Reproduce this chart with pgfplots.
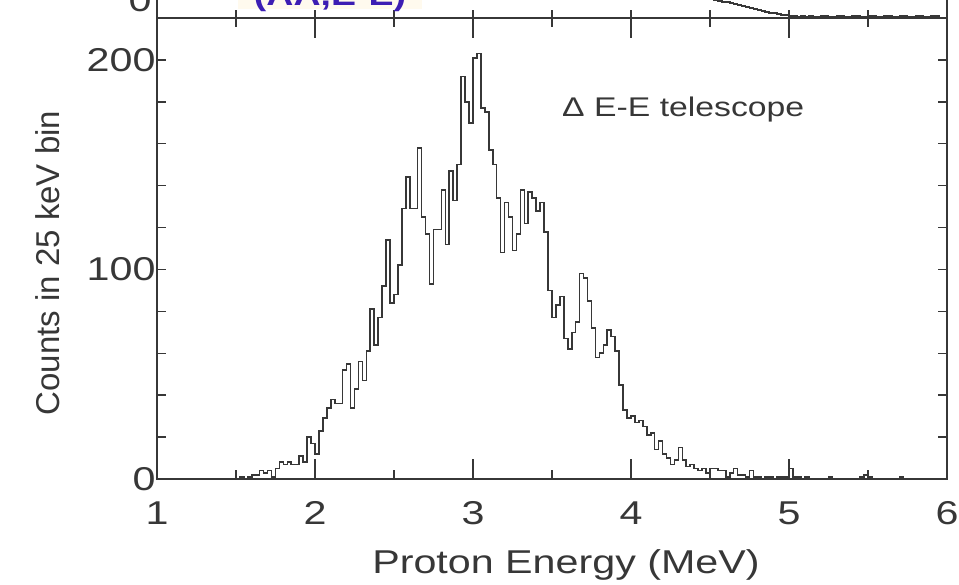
\documentclass[border=0pt]{standalone}
\usepackage{fontspec}
\setmainfont{Liberation Sans}[FakeStretch=1.25]
\newfontfamily\ylabfont{Liberation Sans}
\usepackage{pgfplots}
\pgfplotsset{compat=1.18}
\definecolor{titleblue}{RGB}{60,30,180}
\definecolor{cream}{RGB}{255,250,238}
\definecolor{ink}{RGB}{55,55,55}
\begin{document}
\begin{tikzpicture}
\useasboundingbox (-157pt,-105pt) rectangle (802pt,479pt);
% main (lower) panel
\begin{axis}[
  scale only axis, width=790pt, height=461pt,
  at={(0pt,0pt)}, anchor=south west,
  xmin=1, xmax=6, ymin=0, ymax=220,
  axis line style={ink, line width=1.6pt},
  xtick={1,2,3,4,5,6},
  minor xtick={1.5,2.5,3.5,4.5,5.5},
  ytick={0,100,200},
  minor ytick={0,20,...,200},
  major tick length=20pt, minor tick length=9pt,
  every major y tick/.append style={draw=none},
  tick style={ink, line width=1.4pt},
  tick label style={font=\fontsize{33}{40}\selectfont, text=ink},
  /pgf/number format/assume math mode=true,
  xticklabel style={yshift=-19pt},
  yticklabel style={xshift=2pt},
  xlabel={Proton Energy (MeV)},
  ylabel={\ylabfont Counts in 25 keV bin},
  label style={font=\fontsize{33}{40}\selectfont, text=ink},
  xlabel style={at={(axis description cs:0.5,0)}, anchor=base, yshift=-94pt, xshift=14pt},
  ylabel style={at={(axis description cs:-0.138,0.4685)}, anchor=center},
]
\addplot[const plot, ink, line width=1.6pt] coordinates {
(1.500,0)(1.525,1)(1.550,0)(1.575,1)(1.600,2)(1.625,2)(1.650,4)(1.675,3)(1.700,4)(1.725,1)
(1.750,5)(1.775,8)(1.800,7)(1.825,8)(1.850,7)(1.875,7)(1.900,11)(1.925,8)(1.950,20)(1.975,17)
(2.000,12)(2.025,23)(2.050,29)(2.075,34)(2.100,38)(2.125,36)(2.150,36)(2.175,52)(2.200,55)(2.225,34)
(2.250,43)(2.275,56)(2.300,47)(2.325,61)(2.350,81)(2.375,64)(2.400,77)(2.425,92)(2.450,114)(2.475,84)
(2.500,88)(2.525,102)(2.550,129)(2.575,144)(2.600,129)(2.625,129)(2.650,158)(2.675,125)(2.700,117)(2.725,93)
(2.750,119)(2.775,119)(2.800,138)(2.825,112)(2.850,147)(2.875,133)(2.900,150)(2.925,192)(2.950,180)(2.975,170)
(3.000,201)(3.025,203)(3.050,177)(3.075,175)(3.100,157)(3.125,150)(3.150,134)(3.175,108)(3.200,132)(3.225,125)
(3.250,109)(3.275,117)(3.300,138)(3.325,122)(3.350,137)(3.375,134)(3.400,128)(3.425,132)(3.450,118)(3.475,90)
(3.500,77)(3.525,83)(3.550,87)(3.575,67)(3.600,62)(3.625,70)(3.650,75)(3.675,98)(3.700,96)(3.725,85)
(3.750,72)(3.775,58)(3.800,60)(3.825,64)(3.850,71)(3.875,68)(3.900,61)(3.925,45)(3.950,33)(3.975,29)
(4.000,30)(4.025,27)(4.050,28)(4.075,25)(4.100,21)(4.125,22)(4.150,14)(4.175,18)(4.200,12)(4.225,10)
(4.250,7)(4.275,9)(4.300,15)(4.325,9)(4.350,6)(4.375,7)(4.400,5)(4.425,4)(4.450,5)(4.475,3)
(4.500,5)(4.525,5)(4.550,4)(4.575,4)(4.600,1)(4.625,3)(4.650,5)(4.675,2)(4.700,2)(4.725,1)
(4.750,4)(4.775,1)(4.800,1)(4.825,0)(4.850,1)(4.875,1)(4.900,0)(4.925,1)(4.950,1)(4.975,1)
(5.000,5)(5.025,1)(5.050,1)(5.075,0)(5.100,1)(5.125,0)(5.250,1)(5.275,0)(5.450,1)(5.475,2)
(5.500,1)(5.525,0)(5.700,1)(5.725,0)(5.800,0)
};
\node[anchor=base west, inner sep=0pt, text=ink, font=\fontsize{27}{33}\selectfont]
  at (axis description cs:0.5127,0.7853) {Δ E-E telescope};
\end{axis}
% upper panel (cut off by the page edge)
\begin{axis}[
  scale only axis, width=790pt, height=300pt,
  at={(0pt,461pt)}, anchor=south west,
  xmin=1, xmax=6, ymin=0, ymax=300,
  axis line style={ink, line width=1.6pt},
  xtick={1,2,3,4,5,6}, xticklabels={},
  minor xtick={1.5,2.5,3.5,4.5,5.5},
  xtick pos=bottom, ytick pos=left,
  ytick={0},
  major tick length=8pt, minor tick length=8pt,
  tick style={ink, line width=1.4pt},
  tick label style={font=\fontsize{33}{40}\selectfont, text=ink},
  /pgf/number format/assume math mode=true,
  yticklabel style={yshift=18pt, xshift=-2pt},
]
\addplot[const plot, ink, line width=1.6pt] coordinates {
(4.350,24)(4.375,23)(4.400,22)(4.425,21)(4.450,21)(4.475,20)(4.500,19)(4.525,18)(4.550,17)(4.575,16)(4.600,16)(4.625,15)
(4.650,14)(4.675,13)(4.700,12)(4.725,11)(4.750,10)(4.775,9)(4.800,8)(4.825,7)(4.850,6)(4.875,5)
(4.900,5)(4.925,4)(4.950,3)(4.975,3)(5.000,2)(5.025,2)(5.050,1)(5.075,2)(5.100,1)(5.125,2)
(5.150,1)(5.200,2)(5.250,1)(5.300,2)(5.350,1)(5.400,2)(5.450,1)(5.500,2)(5.550,1)(5.600,2)
(5.650,1)(5.700,2)(5.750,1)(5.800,2)(5.850,1)(5.900,2)(5.950,1)
};
\end{axis}
\fill[cream] (81pt,470pt) rectangle (265pt,500pt);
\node[anchor=base, inner sep=0pt, text=titleblue, font=\fontsize{30}{36}\selectfont\bfseries]
  at (173pt,473pt) {(AA,E-E)};
\end{tikzpicture}
\end{document}
